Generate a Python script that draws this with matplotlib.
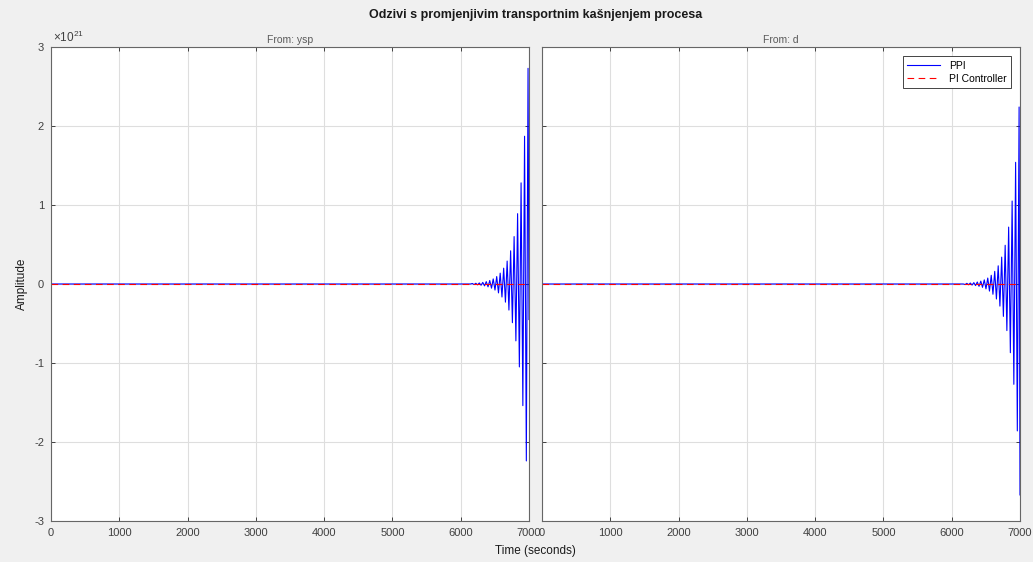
import numpy as np
import matplotlib.pyplot as plt
from matplotlib.ticker import FuncFormatter

plt.rcParams['font.family'] = ['Liberation Sans', 'DejaVu Sans']
plt.rcParams['mathtext.fontset'] = 'custom'
plt.rcParams['mathtext.rm'] = 'Liberation Sans'
plt.rcParams['mathtext.it'] = 'Liberation Sans'
plt.rcParams['axes.unicode_minus'] = False

# values, amplitude in units of 1e21
SCALE = 1e21
t_end = 7000

# From: ysp  (PPI response, zero until the oscillation starts)
ysp_t = [0, 6145, 6170, 6196, 6221, 6247, 6272, 6298, 6323, 6349, 6374, 6400,
         6425, 6451, 6476, 6502, 6527, 6553, 6578, 6604, 6629, 6655, 6680, 6706,
         6731, 6757, 6782, 6808, 6833, 6859, 6884, 6910, 6935, 6961, 6986, 7000]
ysp_v = [0, 0, 0.006, -0.0075, 0.009, -0.011, 0.013, -0.016, 0.02, -0.024, 0.03, -0.036,
         0.044, -0.053, 0.064, -0.077, 0.094, -0.113, 0.137, -0.165, 0.20, -0.23, 0.29, -0.33,
         0.42, -0.49, 0.60, -0.72, 0.89, -1.05, 1.28, -1.54, 1.87, -2.24, 2.73, -0.45]

# From: d
d_t = [0, 6170, 6196, 6222, 6247, 6273, 6298, 6324, 6349, 6375, 6400, 6426,
       6451, 6477, 6502, 6528, 6553, 6579, 6604, 6630, 6655, 6681, 6706, 6732,
       6757, 6783, 6808, 6834, 6859, 6885, 6910, 6936, 6961, 6987, 7000]
d_v = [0, 0, -0.007, 0.008, -0.01, 0.012, -0.014, 0.017, -0.02, 0.025, -0.03, 0.036,
       -0.043, 0.052, -0.062, 0.075, -0.09, 0.11, -0.13, 0.16, -0.19, 0.23, -0.28, 0.34,
       -0.41, 0.49, -0.59, 0.72, -0.87, 1.05, -1.27, 1.54, -1.86, 2.24, -2.67]

# PI Controller stays at zero on both inputs
pi_t = [0, t_end]
pi_v = [0, 0]

panels = [("From: ysp", ysp_t, ysp_v), ("From: d", d_t, d_v)]

bg = '#f0f0f0'
txt = '#404040'
fig = plt.figure(figsize=(10.33, 5.62), dpi=100, facecolor=bg)
ax1 = fig.add_axes([0.0494, 0.0730, 0.4627, 0.8434])
ax2 = fig.add_axes([0.5247, 0.0730, 0.4627, 0.8434], sharey=ax1)

for ax, (name, t, v) in zip([ax1, ax2], panels):
    ax.plot(t, np.array(v) * SCALE, color='b', lw=0.8, label='PPI')
    ax.plot(pi_t, np.array(pi_v) * SCALE, color='r', lw=0.8, ls=(0, (6, 4)),
            label='PI Controller')
    ax.set_xlim(0, t_end)
    ax.set_ylim(-3 * SCALE, 3 * SCALE)
    ax.set_xticks(range(0, 7001, 1000))
    ax.set_yticks(np.arange(-3, 4) * SCALE)
    ax.grid(True, color='#dedede', lw=0.8)
    ax.set_axisbelow(True)
    ax.tick_params(direction='in', length=3, width=0.6, top=True, right=True,
                   labelsize=8, colors='#262626', labelcolor=txt, pad=5)
    for s in ax.spines.values():
        s.set_color('#666666')
        s.set_linewidth(0.8)
    ax.set_title(name, fontsize=7.5, color='#5a5a5a', pad=3)

# MATLAB style: plain tick numbers plus the exponent above the axis
ax1.yaxis.set_major_formatter(FuncFormatter(lambda v, p: "%d" % round(v / SCALE)))
ax1.text(0.005, 1.004, r"$\times10^{21}$", transform=ax1.transAxes,
         ha='left', va='bottom', fontsize=8.5, color=txt)
ax2.tick_params(labelleft=False)

leg = ax2.legend(loc='upper right', fontsize=7.5, fancybox=False, framealpha=1,
                 edgecolor='#262626', borderaxespad=0.9, handlelength=3.2,
                 borderpad=0.4, labelspacing=0.3)
leg.get_frame().set_linewidth(0.6)

fig.text(0.5184, 0.973, "Odzivi s promjenjivim transportnim kašnjenjem procesa",
         ha='center', va='center', fontsize=9, fontweight='bold', color='#1a1a1a')
fig.text(0.5184, 0.0196, "Time (seconds)", ha='center', va='center',
         fontsize=8.5, color='#1a1a1a')
fig.text(0.0213, 0.4947, "Amplitude", ha='center', va='center', rotation=90,
         fontsize=8.5, color='#1a1a1a')

fig.savefig('out.png', dpi=100, facecolor=bg)
